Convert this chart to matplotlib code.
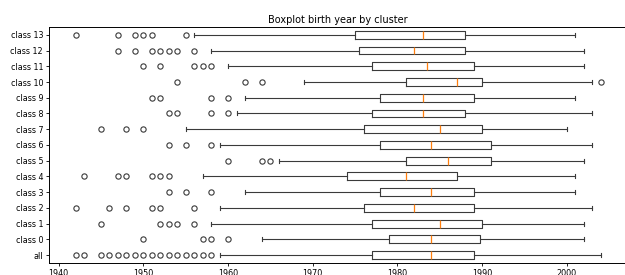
import matplotlib.pyplot as plt

# groups from bottom to top
labels = ['all', 'class 0', 'class 1', 'class 2', 'class 3', 'class 4', 'class 5', 'class 6',
          'class 7', 'class 8', 'class 9', 'class 10', 'class 11', 'class 12', 'class 13']

# box stats (birth year)
q1 = [1977, 1979, 1977, 1976, 1978, 1974, 1981, 1978, 1976, 1977, 1978, 1981, 1977, 1975.5, 1975]
med = [1984, 1984, 1985, 1982, 1984, 1981, 1986, 1984, 1985, 1983, 1983, 1987, 1983.5, 1982, 1983]
q3 = [1989, 1989.8, 1990, 1989, 1989, 1987, 1991, 1991, 1990, 1988, 1989, 1990, 1989, 1988, 1988]
whislo = [1959, 1964, 1958, 1959, 1962, 1957, 1966, 1959, 1955, 1961, 1962, 1969, 1960, 1958, 1956]
whishi = [2004, 2002, 2002, 2003, 2001, 2001, 2002, 2003, 2000, 2003, 2001, 2003, 2002, 2002, 2001]
fliers = [
    [1942, 1943, 1945, 1946, 1947, 1948, 1949, 1950, 1951, 1952, 1953, 1954, 1955, 1956, 1957, 1958],
    [1950, 1957, 1958, 1960],
    [1945, 1952, 1953, 1954, 1956],
    [1942, 1946, 1948, 1951, 1952, 1956],
    [1953, 1955, 1958],
    [1943, 1947, 1948, 1951, 1952, 1953],
    [1960, 1964, 1965],
    [1953, 1955, 1958],
    [1945, 1948, 1950],
    [1953, 1954, 1958, 1960],
    [1951, 1952, 1958, 1960],
    [1954, 1962, 1964, 2004],
    [1950, 1952, 1956, 1957, 1958],
    [1947, 1949, 1951, 1952, 1953, 1954, 1956],
    [1942, 1947, 1949, 1950, 1951, 1955],
]

stats = []
for i in range(len(labels)):
    stats.append(dict(label=labels[i], q1=q1[i], med=med[i], q3=q3[i],
                      whislo=whislo[i], whishi=whishi[i], fliers=fliers[i]))

fig = plt.figure(figsize=(6.25, 2.75), dpi=100)
ax = fig.add_axes([0.079, 0.044, 0.924, 0.858])

lw = 0.8
ax.bxp(stats, vert=False,
       boxprops=dict(color='#3a3a3a', linewidth=lw),
       whiskerprops=dict(color='#3a3a3a', linewidth=lw),
       capprops=dict(color='#3a3a3a', linewidth=lw),
       medianprops=dict(color='#ff7f0e', linewidth=0.9),
       flierprops=dict(marker='o', markersize=3.8, markerfacecolor='none',
                       markeredgecolor='#3a3a3a', markeredgewidth=lw))

ax.set_title('Boxplot birth year by cluster', fontsize=7, pad=3)
ax.tick_params(labelsize=5.8, width=0.6, length=2.5, pad=2)
for s in ax.spines.values():
    s.set_linewidth(0.7)

plt.savefig('out.png', dpi=100)
